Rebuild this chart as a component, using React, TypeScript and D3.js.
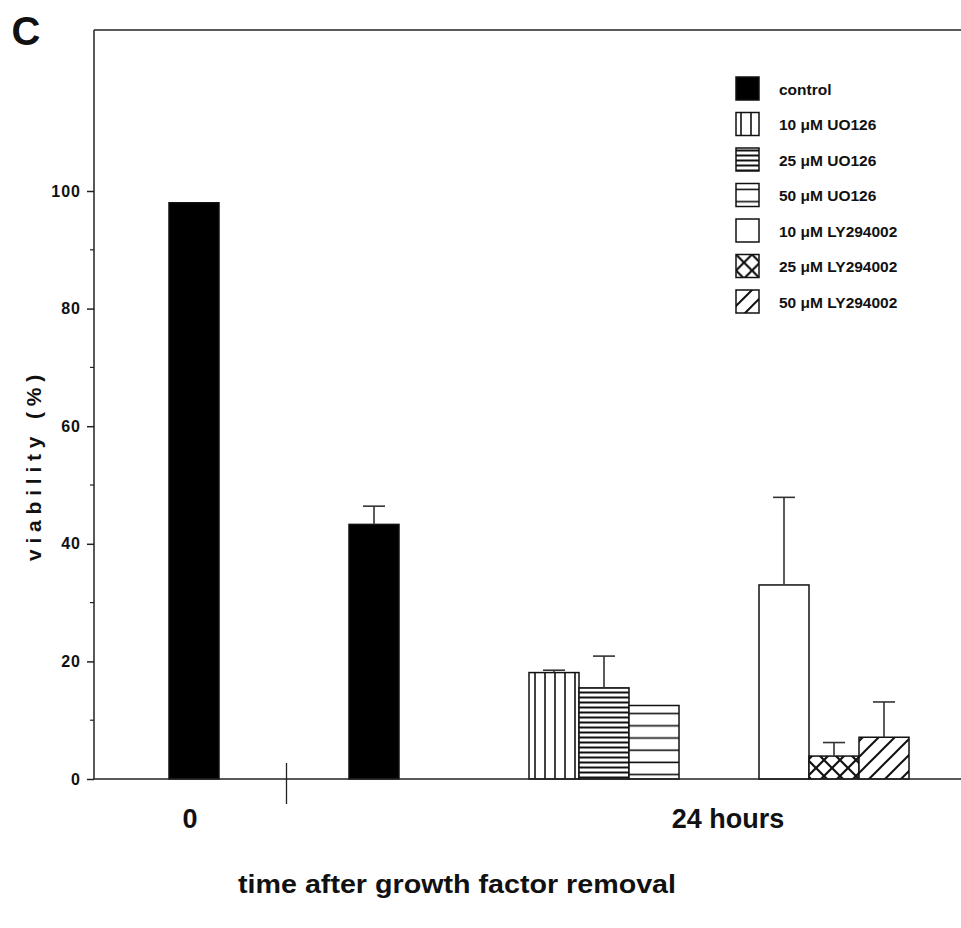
import React, { useEffect, useRef } from 'react';
import * as d3 from 'd3';

// legend entries (treatments)
const treatments = [
  'control',
  '10 μM UO126',
  '25 μM UO126',
  '50 μM UO126',
  '10 μM LY294002',
  '25 μM LY294002',
  '50 μM LY294002',
];

// one entry per bar
const barGroup = [0, 1, 2, 2, 2, 3, 3, 3];
const barTreatment = [0, 0, 1, 2, 3, 4, 5, 6];
const barValues = [98, 43.3, 18.1, 15.5, 12.5, 33.0, 3.9, 7.1];
const barErrors = [0, 3.1, 0.4, 5.4, 0, 14.9, 2.3, 6.0];

const yTicks = [0, 20, 40, 60, 80, 100];
const xLabels = ['0', '24 hours'];

const W = 961;
const H = 928;
const left = 94;
const top = 30;
const bottom = 779;

// group centres in bar-width units from the y axis
const groupCenter = [2.0, 5.6, 10.2, 14.8];
const fills = ['#000', 'url(#p-vert)', 'url(#p-hdense)', 'url(#p-hwide)', '#fff', 'url(#p-cross)', 'url(#p-diag)'];

const font = 'Arial, "Liberation Sans", Helvetica, sans-serif';

const App = () => {
  const ref = useRef<SVGSVGElement>(null);

  useEffect(() => {
    const svg = d3.select(ref.current);
    svg.selectAll('*').remove();

    const x = d3.scaleLinear().domain([0, (W - left) / 50]).range([left, W]);
    const y = d3.scaleLinear().domain([0, 100]).range([bottom, 191]);
    const bw = x(1) - x(0);

    // patterns
    const defs = svg.append('defs');
    const pat = (id: string, w: number, h: number) =>
      defs.append('pattern').attr('id', id).attr('patternUnits', 'userSpaceOnUse')
        .attr('width', w).attr('height', h);
    const pv = pat('p-vert', 10, 10);
    pv.append('rect').attr('width', 10).attr('height', 10).attr('fill', '#fff');
    pv.append('line').attr('x1', 5).attr('x2', 5).attr('y1', 0).attr('y2', 10).attr('stroke', '#111').attr('stroke-width', 1.6);
    const phd = pat('p-hdense', 10, 5);
    phd.append('rect').attr('width', 10).attr('height', 5).attr('fill', '#fff');
    phd.append('line').attr('x1', 0).attr('x2', 10).attr('y1', 2.5).attr('y2', 2.5).attr('stroke', '#111').attr('stroke-width', 2);
    const phw = pat('p-hwide', 10, 12.2);
    phw.append('rect').attr('width', 10).attr('height', 12.2).attr('fill', '#fff');
    phw.append('line').attr('x1', 0).attr('x2', 10).attr('y1', 6).attr('y2', 6).attr('stroke', '#111').attr('stroke-width', 1.6);
    const pc = pat('p-cross', 16, 16);
    pc.append('rect').attr('width', 16).attr('height', 16).attr('fill', '#fff');
    pc.append('path').attr('d', 'M0,0L16,16M16,0L0,16').attr('stroke', '#111').attr('stroke-width', 2.2);
    const pd = pat('p-diag', 16, 16);
    pd.append('rect').attr('width', 16).attr('height', 16).attr('fill', '#fff');
    pd.append('path').attr('d', 'M0,16L16,0M-4,4L4,-4M12,20L20,12').attr('stroke', '#111').attr('stroke-width', 2);

    // frame
    svg.append('line').attr('x1', left).attr('x2', W).attr('y1', top).attr('y2', top)
      .attr('stroke', '#222').attr('stroke-width', 1.5);

    // bars
    const bars = barValues.map((v, i) => {
      const g = barGroup[i];
      const members = barGroup.filter((d) => d === g).length;
      const idx = barGroup.slice(0, i).filter((d) => d === g).length;
      const c = groupCenter[g] + (idx - (members - 1) / 2);
      return { v, e: barErrors[i], t: barTreatment[i], cx: x(c) };
    });

    svg.selectAll('rect.bar').data(bars).enter().append('rect')
      .attr('class', 'bar')
      .attr('x', (d) => d.cx - bw / 2)
      .attr('width', bw)
      .attr('y', (d) => y(d.v))
      .attr('height', (d) => y(0) - y(d.v))
      .attr('fill', (d) => fills[d.t])
      .attr('stroke', '#111')
      .attr('stroke-width', 1.5);

    // error bars
    const eb = svg.selectAll('g.err').data(bars.filter((d) => d.e > 0)).enter().append('g')
      .attr('stroke', '#333').attr('stroke-width', 1.6);
    eb.append('line').attr('x1', (d) => d.cx).attr('x2', (d) => d.cx)
      .attr('y1', (d) => y(d.v)).attr('y2', (d) => y(d.v + d.e));
    eb.append('line').attr('x1', (d) => d.cx - 11).attr('x2', (d) => d.cx + 11)
      .attr('y1', (d) => y(d.v + d.e)).attr('y2', (d) => y(d.v + d.e));

    // y axis
    const yAxis = svg.append('g').attr('transform', `translate(${left},0)`)
      .call(d3.axisLeft(y).tickValues(yTicks).tickSize(7).tickPadding(6));
    yAxis.select('.domain').remove();
    yAxis.selectAll('line').attr('stroke', '#222').attr('stroke-width', 1.5);
    yAxis.selectAll('text').attr('font-family', font).attr('font-weight', 'bold')
      .attr('font-size', 16).attr('letter-spacing', 1).attr('fill', '#111');
    svg.append('g').attr('transform', `translate(${left},0)`)
      .selectAll('line').data(d3.range(10, 101, 20)).enter().append('line')
      .attr('x1', -4).attr('x2', 0).attr('y1', (d) => y(d)).attr('y2', (d) => y(d))
      .attr('stroke', '#222').attr('stroke-width', 1.2);
    svg.append('line').attr('x1', left).attr('x2', left).attr('y1', top).attr('y2', bottom)
      .attr('stroke', '#222').attr('stroke-width', 1.5);

    // x axis
    svg.append('line').attr('x1', left).attr('x2', W).attr('y1', bottom).attr('y2', bottom)
      .attr('stroke', '#222').attr('stroke-width', 1.5);
    const sep = (groupCenter[0] + groupCenter[1]) / 2 + 0.05;
    svg.append('line').attr('x1', x(sep)).attr('x2', x(sep)).attr('y1', bottom - 16).attr('y2', bottom + 25)
      .attr('stroke', '#222').attr('stroke-width', 1.3);

    svg.selectAll('text.xl').data(xLabels).enter().append('text')
      .attr('x', (d, i) => (i === 0 ? x(groupCenter[0]) - 4 : x(12.68)))
      .attr('y', 828)
      .attr('text-anchor', 'middle')
      .attr('font-family', font).attr('font-weight', 'bold').attr('font-size', 27)
      .attr('fill', '#111')
      .text((d) => d);

    svg.append('text').attr('x', 457).attr('y', 893).attr('text-anchor', 'middle')
      .attr('font-family', font).attr('font-weight', 'bold').attr('font-size', 25)
      .attr('textLength', 438).attr('lengthAdjust', 'spacingAndGlyphs')
      .attr('fill', '#111').text('time after growth factor removal');

    svg.append('text').attr('transform', 'translate(41,465) rotate(-90)')
      .attr('text-anchor', 'middle')
      .attr('font-family', font).attr('font-weight', 'bold').attr('font-size', 21)
      .attr('letter-spacing', 5.8).attr('fill', '#111').text('viability (%)');

    svg.append('text').attr('x', 26).attr('y', 45).attr('text-anchor', 'middle')
      .attr('font-family', font).attr('font-weight', 'bold').attr('font-size', 40)
      .attr('fill', '#111').text('C');

    // legend
    const lg = svg.append('g').attr('transform', 'translate(736,77)');
    const row = lg.selectAll('g').data(treatments).enter().append('g')
      .attr('transform', (d, i) => `translate(0,${i * 35.5})`);
    row.append('rect').attr('width', 23).attr('height', 23)
      .attr('fill', (d, i) => fills[i]).attr('stroke', '#111').attr('stroke-width', 1.5);
    row.append('text').attr('x', 43).attr('y', 17.5)
      .attr('font-family', font).attr('font-weight', 'bold').attr('font-size', 15.5)
      .attr('fill', '#111').text((d) => d);
  }, []);

  return (
    <svg ref={ref} width={W} height={H}
      style={{ position: 'absolute', left: 0, top: 0, background: '#fff' }} />
  );
};

export default App;
